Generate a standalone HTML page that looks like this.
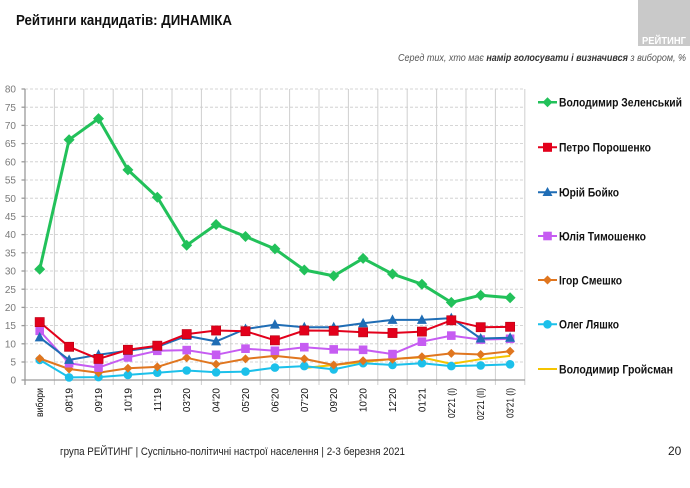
<!DOCTYPE html>
<html>
<head>
<meta charset="utf-8">
<style>
html,body{margin:0;padding:0;background:#fff;}
svg{display:block;}
text{font-family:"Liberation Sans","Noto Sans CJK SC",sans-serif;}
</style>
</head>
<body>
<svg width="690" height="488" viewBox="0 0 690 488" xmlns="http://www.w3.org/2000/svg">
<defs>
  <marker id="mZ" markerUnits="userSpaceOnUse" markerWidth="14" markerHeight="14" viewBox="-7 -7 14 14" refX="0" refY="0">
    <path d="M0,-5.5 L5.5,0 L0,5.5 L-5.5,0Z" fill="#22c15a"/>
  </marker>
  <marker id="mP" markerUnits="userSpaceOnUse" markerWidth="14" markerHeight="14" viewBox="-7 -7 14 14" refX="0" refY="0">
    <rect x="-4.6" y="-4.6" width="9.2" height="9.2" fill="#e3001b" stroke="#b80012" stroke-width="0.6"/>
  </marker>
  <marker id="mB" markerUnits="userSpaceOnUse" markerWidth="14" markerHeight="14" viewBox="-7 -7 14 14" refX="0" refY="0">
    <path d="M0,-5.5 L5,4 L-5,4Z" fill="#1f6db5"/>
  </marker>
  <marker id="mT" markerUnits="userSpaceOnUse" markerWidth="14" markerHeight="14" viewBox="-7 -7 14 14" refX="0" refY="0">
    <rect x="-4.3" y="-4.3" width="8.6" height="8.6" fill="#c65cf2"/>
  </marker>
  <marker id="mS" markerUnits="userSpaceOnUse" markerWidth="14" markerHeight="14" viewBox="-7 -7 14 14" refX="0" refY="0">
    <path d="M0,-4.5 L4.5,0 L0,4.5 L-4.5,0Z" fill="#e0761f"/>
  </marker>
  <marker id="mL" markerUnits="userSpaceOnUse" markerWidth="14" markerHeight="14" viewBox="-7 -7 14 14" refX="0" refY="0">
    <circle cx="0" cy="0" r="4.3" fill="#1cc0ea"/>
  </marker>
</defs>

<!-- header -->
<text x="16" y="25" font-size="15" font-weight="bold" fill="#111" textLength="216" lengthAdjust="spacingAndGlyphs">Рейтинги кандидатів: ДИНАМІКА</text>
<rect x="638" y="0" width="52" height="46" fill="#c9c9c9"/>
<text x="642" y="44" font-size="10.5" font-weight="bold" fill="#fff" textLength="44" lengthAdjust="spacingAndGlyphs">РЕЙТИНГ</text>
<text x="398" y="61" font-size="10" font-style="italic" fill="#555" textLength="288" lengthAdjust="spacingAndGlyphs">Серед тих, хто має <tspan font-weight="bold" fill="#333">намір голосувати і визначився</tspan> з вибором, %</text>

<!-- horizontal dashed gridlines -->
<g stroke="#c9c9c9" stroke-width="0.8" stroke-dasharray="3,2">
  <line x1="25" y1="89" x2="525" y2="89"/>
  <line x1="25" y1="107.2" x2="525" y2="107.2"/>
  <line x1="25" y1="125.4" x2="525" y2="125.4"/>
  <line x1="25" y1="143.6" x2="525" y2="143.6"/>
  <line x1="25" y1="161.8" x2="525" y2="161.8"/>
  <line x1="25" y1="180" x2="525" y2="180"/>
  <line x1="25" y1="198.2" x2="525" y2="198.2"/>
  <line x1="25" y1="216.4" x2="525" y2="216.4"/>
  <line x1="25" y1="234.6" x2="525" y2="234.6"/>
  <line x1="25" y1="252.8" x2="525" y2="252.8"/>
  <line x1="25" y1="271" x2="525" y2="271"/>
  <line x1="25" y1="289.2" x2="525" y2="289.2"/>
  <line x1="25" y1="307.4" x2="525" y2="307.4"/>
  <line x1="25" y1="325.6" x2="525" y2="325.6"/>
  <line x1="25" y1="343.8" x2="525" y2="343.8"/>
  <line x1="25" y1="362" x2="525" y2="362"/>
</g>

<!-- vertical gridlines -->
<g stroke="#cfcfcf" stroke-width="1">
  <line x1="54.4" y1="89" x2="54.4" y2="385"/>
  <line x1="83.8" y1="89" x2="83.8" y2="385"/>
  <line x1="113.2" y1="89" x2="113.2" y2="385"/>
  <line x1="142.6" y1="89" x2="142.6" y2="385"/>
  <line x1="172" y1="89" x2="172" y2="385"/>
  <line x1="201.4" y1="89" x2="201.4" y2="385"/>
  <line x1="230.8" y1="89" x2="230.8" y2="385"/>
  <line x1="260.2" y1="89" x2="260.2" y2="385"/>
  <line x1="289.6" y1="89" x2="289.6" y2="385"/>
  <line x1="319" y1="89" x2="319" y2="385"/>
  <line x1="348.4" y1="89" x2="348.4" y2="385"/>
  <line x1="377.8" y1="89" x2="377.8" y2="385"/>
  <line x1="407.2" y1="89" x2="407.2" y2="385"/>
  <line x1="436.6" y1="89" x2="436.6" y2="385"/>
  <line x1="466" y1="89" x2="466" y2="385"/>
  <line x1="495.4" y1="89" x2="495.4" y2="385"/>
  <line x1="524.8" y1="89" x2="524.8" y2="385"/>
</g>

<!-- axes -->
<g stroke="#9a9a9a" stroke-width="1.3">
  <line x1="25" y1="89" x2="25" y2="385"/>
  <line x1="25" y1="380" x2="525" y2="380"/>
  <line x1="21.5" y1="89" x2="25" y2="89"/>
  <line x1="21.5" y1="107.2" x2="25" y2="107.2"/>
  <line x1="21.5" y1="125.4" x2="25" y2="125.4"/>
  <line x1="21.5" y1="143.6" x2="25" y2="143.6"/>
  <line x1="21.5" y1="161.8" x2="25" y2="161.8"/>
  <line x1="21.5" y1="180" x2="25" y2="180"/>
  <line x1="21.5" y1="198.2" x2="25" y2="198.2"/>
  <line x1="21.5" y1="216.4" x2="25" y2="216.4"/>
  <line x1="21.5" y1="234.6" x2="25" y2="234.6"/>
  <line x1="21.5" y1="252.8" x2="25" y2="252.8"/>
  <line x1="21.5" y1="271" x2="25" y2="271"/>
  <line x1="21.5" y1="289.2" x2="25" y2="289.2"/>
  <line x1="21.5" y1="307.4" x2="25" y2="307.4"/>
  <line x1="21.5" y1="325.6" x2="25" y2="325.6"/>
  <line x1="21.5" y1="343.8" x2="25" y2="343.8"/>
  <line x1="21.5" y1="362" x2="25" y2="362"/>
  <line x1="21.5" y1="380" x2="25" y2="380"/>
</g>

<!-- y labels -->
<g font-size="10" fill="#7a7a7a" text-anchor="end">
  <text x="16" y="92.6">80</text>
  <text x="16" y="110.8">75</text>
  <text x="16" y="129">70</text>
  <text x="16" y="147.2">65</text>
  <text x="16" y="165.4">60</text>
  <text x="16" y="183.6">55</text>
  <text x="16" y="201.8">50</text>
  <text x="16" y="220">45</text>
  <text x="16" y="238.2">40</text>
  <text x="16" y="256.4">35</text>
  <text x="16" y="274.6">30</text>
  <text x="16" y="292.8">25</text>
  <text x="16" y="311">20</text>
  <text x="16" y="329.2">15</text>
  <text x="16" y="347.4">10</text>
  <text x="16" y="365.6">5</text>
  <text x="16" y="383.6">0</text>
</g>

<!-- x labels -->
<g font-size="10" fill="#111" text-anchor="end">
  <text x="43.2" y="388" transform="rotate(-90 43.2 388)" textLength="29" lengthAdjust="spacingAndGlyphs">вибори</text>
  <text x="72.6" y="388" transform="rotate(-90 72.6 388)">08'19</text>
  <text x="102" y="388" transform="rotate(-90 102 388)">09'19</text>
  <text x="131.4" y="388" transform="rotate(-90 131.4 388)">10'19</text>
  <text x="160.8" y="388" transform="rotate(-90 160.8 388)">11'19</text>
  <text x="190.2" y="388" transform="rotate(-90 190.2 388)">03'20</text>
  <text x="219.6" y="388" transform="rotate(-90 219.6 388)">04'20</text>
  <text x="249" y="388" transform="rotate(-90 249 388)">05'20</text>
  <text x="278.4" y="388" transform="rotate(-90 278.4 388)">06'20</text>
  <text x="307.8" y="388" transform="rotate(-90 307.8 388)">07'20</text>
  <text x="337.2" y="388" transform="rotate(-90 337.2 388)">09'20</text>
  <text x="366.6" y="388" transform="rotate(-90 366.6 388)">10'20</text>
  <text x="396" y="388" transform="rotate(-90 396 388)">12'20</text>
  <text x="425.4" y="388" transform="rotate(-90 425.4 388)">01'21</text>
  <text x="454.8" y="388" transform="rotate(-90 454.8 388)" textLength="30" lengthAdjust="spacingAndGlyphs">02'21 (I)</text>
  <text x="484.2" y="388" transform="rotate(-90 484.2 388)" textLength="32" lengthAdjust="spacingAndGlyphs">02'21 (II)</text>
  <text x="513.6" y="388" transform="rotate(-90 513.6 388)" textLength="30" lengthAdjust="spacingAndGlyphs">03'21 (I)</text>
</g>

<!-- series -->
<g fill="none" stroke-linejoin="round">
  <!-- Groysman -->
  <polyline stroke="#f5c400" stroke-width="2" points="304.3,368 333.7,365 363.1,362.1 392.5,358.9 421.9,357.4 451.3,363.9 480.7,359.2 510.1,355.9"/>
  <!-- Lyashko -->
  <polyline stroke="#1cc0ea" stroke-width="2" marker-start="url(#mL)" marker-mid="url(#mL)" marker-end="url(#mL)"
    points="39.7,359.9 69.1,377.4 98.5,377.1 127.9,374.9 157.3,372.7 186.7,370.5 216.1,372.3 245.5,371.6 274.9,367.6 304.3,366.1 333.7,369.4 363.1,363.2 392.5,365 421.9,363.2 451.3,366.1 480.7,365.4 510.1,364.3"/>
  <!-- Smeshko -->
  <polyline stroke="#e0761f" stroke-width="2" marker-start="url(#mS)" marker-mid="url(#mS)" marker-end="url(#mS)"
    points="39.7,358.5 69.1,369 98.5,372.7 127.9,368.3 157.3,366.9 186.7,357.8 216.1,364.3 245.5,358.9 274.9,355.9 304.3,358.9 333.7,365 363.1,360.7 392.5,359.2 421.9,356.7 451.3,353.4 480.7,354.5 510.1,351.2"/>
  <!-- Tymoshenko -->
  <polyline stroke="#c65cf2" stroke-width="2" marker-start="url(#mT)" marker-mid="url(#mT)" marker-end="url(#mT)"
    points="39.7,330.8 69.1,363.2 98.5,367.6 127.9,357.4 157.3,350.8 186.7,350.1 216.1,354.8 245.5,348.7 274.9,350.8 304.3,347.2 333.7,349.4 363.1,349.8 392.5,354.1 421.9,341.7 451.3,335.6 480.7,339.6 510.1,338.8"/>
  <!-- Boyko -->
  <polyline stroke="#1f6db5" stroke-width="2" marker-start="url(#mB)" marker-mid="url(#mB)" marker-end="url(#mB)"
    points="39.7,337.4 69.1,359.9 98.5,354.8 127.9,350.8 157.3,346.8 186.7,335.9 216.1,341.4 245.5,329 274.9,324.6 304.3,327.2 333.7,327.2 363.1,323.2 392.5,319.9 421.9,319.9 451.3,318.1 480.7,338.5 510.1,337.7"/>
  <!-- Poroshenko -->
  <polyline stroke="#e3001b" stroke-width="2" marker-start="url(#mP)" marker-mid="url(#mP)" marker-end="url(#mP)"
    points="39.7,322.1 69.1,346.8 98.5,358.9 127.9,349.8 157.3,345.7 186.7,334.1 216.1,330.5 245.5,331.2 274.9,340.3 304.3,330.5 333.7,330.8 363.1,332.3 392.5,333 421.9,331.6 451.3,320.3 480.7,327.2 510.1,326.8"/>
  <!-- Zelensky -->
  <polyline stroke="#22c15a" stroke-width="3" marker-start="url(#mZ)" marker-mid="url(#mZ)" marker-end="url(#mZ)"
    points="39.7,269.3 69.1,139.7 98.5,118.6 127.9,169.9 157.3,197.2 186.7,245.3 216.1,224.5 245.5,236.5 274.9,248.9 304.3,270 333.7,275.9 363.1,258.4 392.5,274 421.9,284.2 451.3,302.4 480.7,295.2 510.1,297.7"/>
</g>

<!-- legend -->
<g font-size="12" font-weight="bold" fill="#111">
  <line x1="538" y1="102.3" x2="557" y2="102.3" stroke="#22c15a" stroke-width="2.5"/>
  <path d="M547.5,97.3 L552.5,102.3 L547.5,107.3 L542.5,102.3Z" fill="#22c15a"/>
  <text x="559" y="106.6" textLength="123" lengthAdjust="spacingAndGlyphs">Володимир Зеленський</text>

  <line x1="538" y1="147.3" x2="557" y2="147.3" stroke="#e3001b" stroke-width="2"/>
  <rect x="543" y="142.8" width="9" height="9" fill="#e3001b"/>
  <text x="559" y="151.6" textLength="92" lengthAdjust="spacingAndGlyphs">Петро Порошенко</text>

  <line x1="538" y1="192.3" x2="557" y2="192.3" stroke="#1f6db5" stroke-width="2"/>
  <path d="M547.5,187 L552.5,196 L542.5,196Z" fill="#1f6db5"/>
  <text x="559" y="196.6" textLength="60" lengthAdjust="spacingAndGlyphs">Юрій Бойко</text>

  <line x1="538" y1="236" x2="557" y2="236" stroke="#c65cf2" stroke-width="2"/>
  <rect x="543.2" y="231.7" width="8.6" height="8.6" fill="#c65cf2"/>
  <text x="559" y="240.3" textLength="87" lengthAdjust="spacingAndGlyphs">Юлія Тимошенко</text>

  <line x1="538" y1="280" x2="557" y2="280" stroke="#e0761f" stroke-width="2"/>
  <path d="M547.5,275.5 L552,280 L547.5,284.5 L543,280Z" fill="#e0761f"/>
  <text x="559" y="284.3" textLength="63" lengthAdjust="spacingAndGlyphs">Ігор Смешко</text>

  <line x1="538" y1="324.3" x2="557" y2="324.3" stroke="#1cc0ea" stroke-width="2"/>
  <circle cx="547.5" cy="324.3" r="4.3" fill="#1cc0ea"/>
  <text x="559" y="328.6" textLength="60" lengthAdjust="spacingAndGlyphs">Олег Ляшко</text>

  <line x1="538" y1="369" x2="557" y2="369" stroke="#f5c400" stroke-width="2"/>
  <text x="559" y="373.3" textLength="114" lengthAdjust="spacingAndGlyphs">Володимир Гройсман</text>
</g>

<!-- footer -->
<text x="60" y="455" font-size="11" fill="#222" textLength="345" lengthAdjust="spacingAndGlyphs">група РЕЙТИНГ | Суспільно-політичні настрої населення  | 2-3 березня 2021</text>
<text x="668" y="455" font-size="12" fill="#222">20</text>
</svg>
</body>
</html>
